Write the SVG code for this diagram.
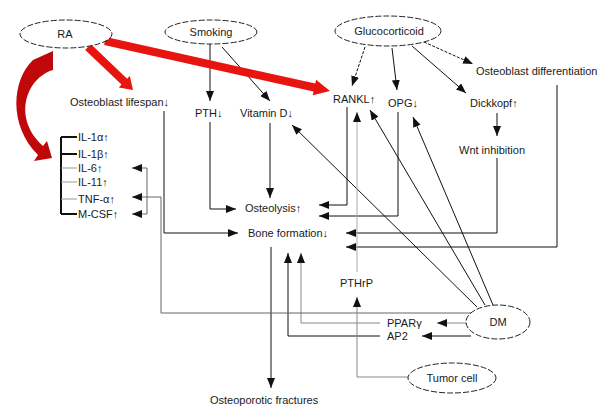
<svg xmlns="http://www.w3.org/2000/svg" width="614" height="407" viewBox="0 0 614 407">
<defs>
<marker id="ah" viewBox="0 0 10 8" refX="10" refY="4" markerWidth="10" markerHeight="8" orient="auto" markerUnits="userSpaceOnUse"><path d="M0,0 L10,4 L0,8 z" fill="#111"/></marker>
<style>
text{font-family:"Liberation Sans",Arial,sans-serif;font-size:11px;fill:#1a1a1a}
.oval{fill:#fff;stroke:#222;stroke-width:1;stroke-dasharray:6 2}
.c{fill:none;stroke:#111;stroke-width:1;marker-end:url(#ah)}
.g{stroke:#888}
.lg{stroke:#aaa}
.d{stroke-dasharray:3 1.5}
.red{fill:#e8140f}
</style>
</defs>
<rect width="614" height="407" fill="#fff"/>

<g id="connectors">
<path class="c" d="M210 44 V101"/>
<path class="c" d="M222 47 L270 101"/>
<path class="c d" d="M365 47 L352 86"/>
<path class="c" d="M392 48 L397 90"/>
<path class="c" d="M412 46 L466 93"/>
<path class="c d" d="M424 42 L473 64"/>
<path class="c" d="M497 113 V136"/>
<path class="c" d="M210 122 V209 H236"/>
<path class="c" d="M270 123 V198"/>
<path class="c" d="M347 107 V205 H319"/>
<path class="c" d="M398 112 V216 H319"/>
<path class="c" d="M164 111 V233 H238"/>
<path class="c" d="M497 158 V233 H346"/>
<path class="c" d="M557 85 V247 H346"/>
<path class="c" d="M271 247 V388"/>
<path class="c" d="M380 336 H288 V253"/>
<path class="c g" d="M380 323 H301 V253"/>
<path class="c g" d="M467 323 H437"/>
<path class="c" d="M471 336 H422"/>
<path class="c" style="stroke:#666" d="M477 313 H161 V197 H132"/>
<path class="c" style="stroke:#666" d="M147 197 V168 H132"/>
<path class="c" style="stroke:#666" d="M147 197 V214 H132"/>
<path class="c" d="M477 307 L292 125"/>
<path class="c" d="M485 305 L370 110"/>
<path class="c" d="M493 305 L413 117"/>
<path class="c g" d="M408 377 H357 V297"/>
<path class="c lg" d="M357 272 V112"/>
<!-- IL bracket -->
<path d="M61 137 V214" stroke="#111" stroke-width="2" fill="none"/>
<path d="M61 137 H77 M61 154 H77 M61 214 H77" stroke="#111" stroke-width="2" fill="none"/>
<path d="M61 168 H77 M61 182 H77 M61 199 H77" stroke="#999" stroke-width="1" fill="none"/>
<!-- red arrows -->
<polygon class="red" points="105.9,37.1 315.3,83.6 316.1,79.7 330,91 312.7,95.3 313.5,91.4 104.1,44.9"/>
<polygon class="red" points="90.8,44.1 127.1,78.8 129.8,75.9 133,90 118.8,87.5 121.5,84.6 85.2,49.9"/>
<path fill="#c0080a" d="M33 60 L53 51 L53 70 C26 78, 12 118, 43 146 L47 141 L52 158 L34 161 L38 155 C8 125, 12 80, 33 60 Z"/>
</g>

<g id="RA"><ellipse class="oval" cx="66" cy="34" rx="46" ry="14"/><text x="65" y="38" text-anchor="middle">RA</text></g>
<g id="Smoking"><ellipse class="oval" cx="211" cy="32" rx="46" ry="12"/><text x="211" y="36" text-anchor="middle">Smoking</text></g>
<g id="Glucocorticoid"><ellipse class="oval" cx="388" cy="31" rx="53" ry="15"/><text x="389" y="35" text-anchor="middle">Glucocorticoid</text></g>
<g id="DM"><ellipse class="oval" cx="498" cy="322" rx="32" ry="17"/><text x="498" y="326" text-anchor="middle">DM</text></g>
<g id="TumorCell"><ellipse class="oval" cx="452" cy="378" rx="44" ry="15"/><text x="452" y="382" text-anchor="middle">Tumor cell</text></g>

<g id="OsteoblastLifespan"><text x="70" y="106">Osteoblast lifespan↓</text></g>
<g id="PTH"><text x="195" y="117">PTH↓</text></g>
<g id="VitaminD"><text x="240" y="117">Vitamin D↓</text></g>
<g id="RANKL"><text x="333" y="103">RANKL↑</text></g>
<g id="OPG"><text x="388" y="107">OPG↓</text></g>
<g id="OsteoblastDifferentiation"><text x="476" y="75">Osteoblast differentiation</text></g>
<g id="Dickkopf"><text x="470" y="107">Dickkopf↑</text></g>
<g id="WntInhibition"><text x="459" y="154">Wnt inhibition</text></g>
<g id="Osteolysis"><text x="245" y="212">Osteolysis↑</text></g>
<g id="BoneFormation"><text x="248" y="237">Bone formation↓</text></g>
<g id="PTHrP"><text x="340" y="287">PTHrP</text></g>
<g id="PPARg"><text x="387" y="327">PPARγ</text></g>
<g id="AP2"><text x="387" y="340">AP2</text></g>
<g id="Fractures"><text x="210" y="404">Osteoporotic fractures</text></g>
<g id="Cytokines">
<text x="78" y="141">IL-1α↑</text>
<text x="78" y="158">IL-1β↑</text>
<text x="78" y="172">IL-6↑</text>
<text x="78" y="186">IL-11↑</text>
<text x="78" y="203">TNF-α↑</text>
<text x="78" y="218">M-CSF↑</text>
</g>
</svg>
